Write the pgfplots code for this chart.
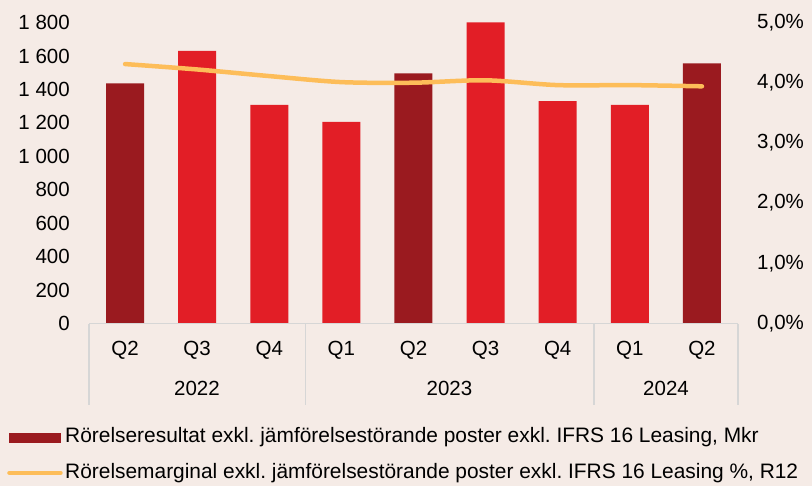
\documentclass[border=0pt]{standalone}
\usepackage{fontspec}
\setmainfont{Liberation Sans}
\usepackage{pgfplots}
\pgfplotsset{compat=1.18}
\definecolor{bg}{HTML}{F5EBE6}
\definecolor{darkred}{HTML}{9A1A1F}
\definecolor{brightred}{HTML}{E21E26}
\definecolor{lineor}{HTML}{FDBD59}
\definecolor{sepgray}{HTML}{D6D6D6}
\frenchspacing
\begin{document}
\fontsize{20.5bp}{24bp}\selectfont
\begin{tikzpicture}[font=\fontsize{20.5bp}{24bp}\selectfont]
\useasboundingbox (-89bp,-162.5bp) rectangle (723bp,323.5bp);
\fill[bg] (-89bp,-162.5bp) rectangle (723bp,323.5bp);
\begin{axis}[
  scale only axis, width=649bp, height=301bp,
  anchor=south west, at={(0,0)},
  xmin=-0.5, xmax=8.5, ymin=0, ymax=1800,
  clip=false,
  axis line style={draw=none}, major tick length=0pt, tick style={draw=none},
  /pgf/number format/assume math mode=true,
  /pgf/number format/1000 sep={\ },
  xtick={0,1,2,3,4,5,6,7,8},
  xticklabels={Q2,Q3,Q4,Q1,Q2,Q3,Q4,Q1,Q2},
  ytick={0,200,400,600,800,1000,1200,1400,1600,1800},
  yticklabel style={anchor=east, inner sep=0pt, xshift=-19bp},
  xticklabel style={anchor=center, inner sep=0pt, yshift=-26.5bp},
]
\addplot[ybar, bar width=38bp, bar shift=0pt, fill=darkred, draw=none] coordinates {(0,1436) (4,1496) (8,1556)};
\addplot[ybar, bar width=38bp, bar shift=0pt, fill=brightred, draw=none] coordinates {(1,1630) (2,1307) (3,1205) (5,1800) (6,1330) (7,1307)};
\end{axis}
\begin{axis}[
  scale only axis, width=649bp, height=301bp,
  anchor=south west, at={(0,0)},
  xmin=-0.5, xmax=8.5, ymin=0, ymax=5,
  clip=false,
  axis line style={draw=none}, major tick length=0pt, tick style={draw=none},
  xtick=\empty,
  ytick={0,1,2,3,4,5},
  yticklabels={{0,0\%},{1,0\%},{2,0\%},{3,0\%},{4,0\%},{5,0\%}},
  yticklabel pos=right,
  yticklabel style={anchor=west, inner sep=0pt, xshift=19bp},
  legend cell align=left,
  legend style={at={(-0.1263,-0.337)}, anchor=north west, draw=none, fill=none,
    inner sep=0pt, row sep=11bp,
    nodes={inner sep=2.5bp, text height=15bp, text depth=4.5bp, font=\fontsize{20.9bp}{24bp}\selectfont}},
]
\addlegendimage{legend image code/.code={\fill[darkred] (0bp,-4.5bp) rectangle (51bp,4.5bp);}}
\addlegendentry{Rörelseresultat exkl. jämförelsestörande poster exkl. IFRS 16 Leasing, Mkr}
\addplot[lineor, line width=4.5bp, smooth, line cap=round,
  legend image code/.code={\draw[lineor, line width=4.5bp, line cap=round] (0bp,0bp) -- (51bp,0bp);}]
  coordinates {(0,4.31) (1,4.22) (2,4.11) (3,4.01) (4,4.00) (5,4.04) (6,3.96) (7,3.96) (8,3.94)};
\addlegendentry{Rörelsemarginal exkl. jämförelsestörande poster exkl. IFRS 16 Leasing \%, R12}
\end{axis}
\draw[sepgray, line width=1.2bp] (0bp,0bp) -- (649bp,0bp);
\foreach \x in {0,216.3,505,649} {\draw[sepgray, line width=1.2bp] (\x bp,0bp) -- (\x bp,-81bp);}
\node at (108bp,-64.5bp) {2022};
\node at (360.5bp,-64.5bp) {2023};
\node at (577bp,-64.5bp) {2024};
\end{tikzpicture}
\end{document}
